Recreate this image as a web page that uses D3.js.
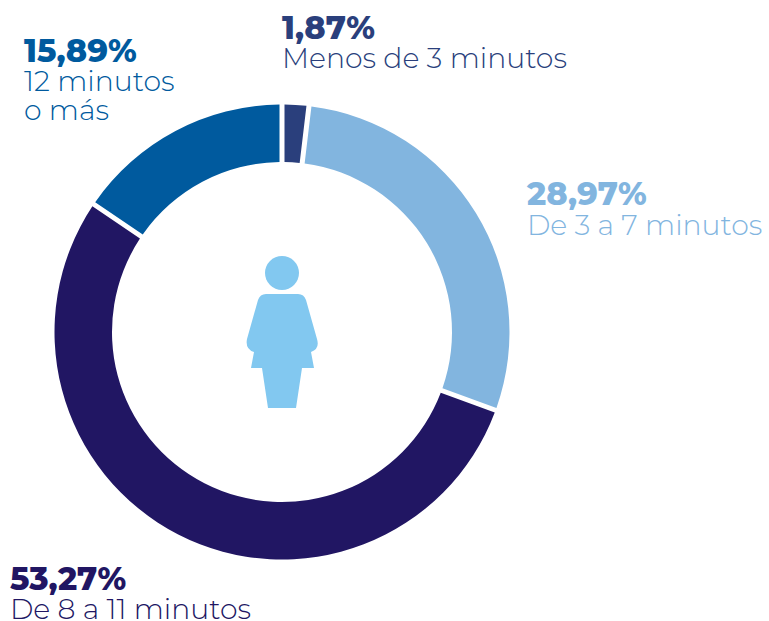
<!DOCTYPE html>
<html>
<head>
<meta charset="utf-8">
<script src="https://cdn.jsdelivr.net/npm/d3@7"></script>
<style>
html, body { margin: 0; padding: 0; background: #fff; }
text { font-family: "Montserrat", "Inter", "Noto Sans", sans-serif; }
</style>
</head>
<body>
<svg id="chart" width="769" height="621"></svg>
<script>
const categories = ["Menos de 3 minutos", "De 3 a 7 minutos", "De 8 a 11 minutos", "12 minutos o más"];
const percentLabels = ["1,87%", "28,97%", "53,27%", "15,89%"];
// slice sizes as measured on the ring, they differ a bit from the printed labels
const percents = [1.89, 28.7, 53.9, 15.51];
const colors = ["#2a3f7c", "#82b5df", "#211663", "#005a9e"];

const svg = d3.select("#chart");
const cx = 282, cy = 332;

const pie = d3.pie().sort(null).value(d => d);
const arc = d3.arc().innerRadius(170).outerRadius(227.5).padAngle(0.022).padRadius(227.5);

svg.append("g")
    .attr("transform", "translate(" + cx + "," + cy + ")")
    .selectAll("path")
    .data(pie(percents))
    .enter().append("path")
    .attr("d", arc)
    .attr("fill", (d, i) => colors[i]);

// labels: x, y of percent, y of each text line
const labels = [
    { i: 0, x: 282, y: 39, lines: ["Menos de 3 minutos"], ly: [68] },
    { i: 1, x: 527, y: 205, lines: ["De 3 a 7 minutos"], ly: [235] },
    { i: 2, x: 10, y: 590, lines: ["De 8 a 11 minutos"], ly: [619] },
    { i: 3, x: 24, y: 62, lines: ["12 minutos", "o más"], ly: [91, 120] }
];

labels.forEach(l => {
    svg.append("text")
        .attr("x", l.x).attr("y", l.y)
        .attr("font-size", 32).attr("font-weight", 800)
        .attr("fill", colors[l.i])
        .text(percentLabels[l.i]);
    l.lines.forEach((t, k) => {
        svg.append("text")
            .attr("x", l.x).attr("y", l.ly[k])
            .attr("font-size", 28.3).attr("font-weight", 300)
            .attr("fill", colors[l.i])
            .text(t);
    });
});

// woman icon in the middle
const icon = svg.append("g").attr("fill", "#82c8f0");
icon.append("circle").attr("cx", cx).attr("cy", 273).attr("r", 17);
icon.append("path").attr("d",
    "M266,294 L298,294 Q304,294 306,300 L317,339 Q320,349 311,352 L314,368 L302,368 L296,408 L268,408 L262,368 L251,368 L254,352 Q245,349 247,339 L258,300 Q260,294 266,294 Z");
</script>
</body>
</html>
